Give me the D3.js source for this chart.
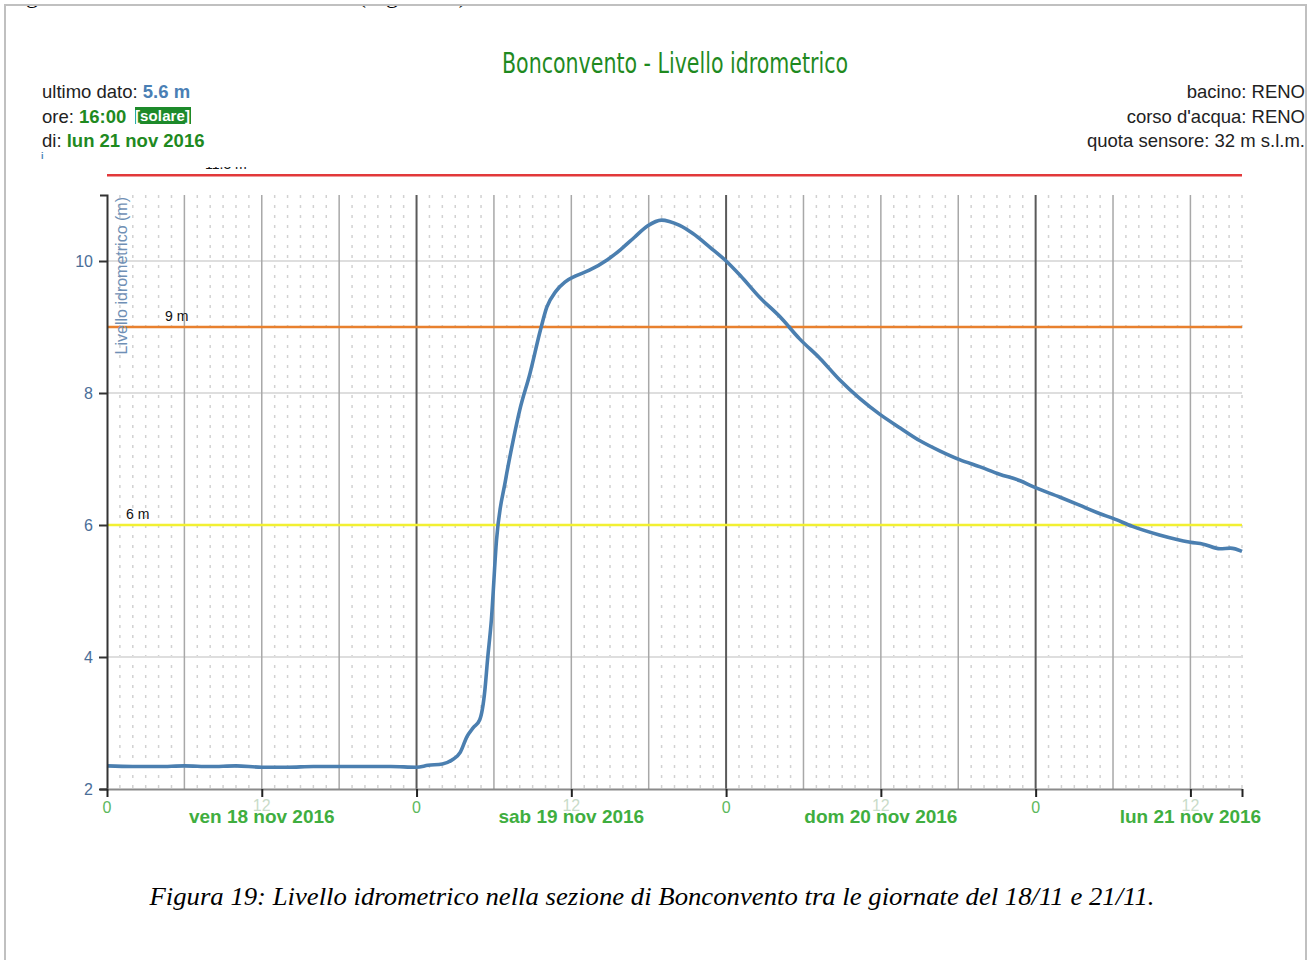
<!DOCTYPE html>
<html lang="it">
<head>
<meta charset="UTF-8">
<title>Bonconvento - Livello idrometrico</title>
<script src="https://d3js.org/d3.v7.min.js"></script>
<style>
  body { margin: 0; background: #fff; }
  svg { display: block; }
  .sans { font-family: 'Liberation Sans', Arial, sans-serif; }
</style>
</head>
<body>
<svg id="chart" width="1311" height="960"></svg>
<script>
// ore dall'inizio di ven 18 nov 2016 (00:00)
const ore = [0, 2, 4, 6, 8, 10, 12, 14, 16, 18, 20, 22, 24, 24.9, 26, 26.75, 27.4, 27.9, 28.4, 28.9,
  29.3, 29.5, 29.8, 30.2, 30.9, 31.5, 32, 32.8, 33.6, 34.1, 34.8, 35.5, 36.3, 37.4, 38.8, 39.8,
  40.9, 41.9, 43, 43.6, 44.4, 45.4, 46.8, 48, 49.1, 50.6, 52.2, 53.7, 55.3, 56.8, 58.4, 59.9,
  61.5, 63, 64.6, 66.1, 67.7, 69.2, 70.8, 71.8, 73.9, 75.4, 77, 78, 79.5, 81.6, 84, 85, 86.3, 87.1, 88];
const livello = [2.35, 2.34, 2.34, 2.35, 2.34, 2.35, 2.33, 2.33, 2.34, 2.34, 2.34, 2.34, 2.33, 2.36, 2.38, 2.44, 2.56, 2.79, 2.93, 3.05,
  3.5, 3.95, 4.56, 5.77, 6.68, 7.29, 7.74, 8.3, 8.95, 9.3, 9.54, 9.68, 9.77, 9.86, 10.02, 10.17,
  10.36, 10.53, 10.62, 10.6, 10.54, 10.42, 10.2, 10.0, 9.78, 9.45, 9.15, 8.82, 8.52, 8.2, 7.91, 7.68,
  7.47, 7.28, 7.12, 6.99, 6.88, 6.77, 6.67, 6.58, 6.42, 6.3, 6.17, 6.1, 5.98, 5.85, 5.74, 5.71, 5.64, 5.65, 5.6];

// soglie (m)
const soglie = [11.3, 9, 6];
const soglieLabel = ["11.3 m", "9 m", "6 m"];
const soglieColori = ["#e2383a", "#e8802e", "#f2f032"];

const giorni = ["ven 18 nov 2016", "sab 19 nov 2016", "dom 20 nov 2016", "lun 21 nov 2016"];
const yTicks = [2, 4, 6, 8, 10];

const infoSinistra = [["ultimo dato: ", "5.6 m"], ["ore: ", "16:00"], ["di: ", "lun 21 nov 2016"]];
const infoDestra = ["bacino: RENO", "corso d'acqua: RENO", "quota sensore: 32 m s.l.m."];

const t0 = Date.UTC(2016, 10, 18);
const ora = h => new Date(t0 + h * 3600e3);
const dati = ore.map((h, i) => ({ t: ora(h), v: livello[i] }));

const svg = d3.select("#chart");

// cornice della pagina (riga di testo tagliata in alto)
svg.append("text").attr("x", 26).attr("y", 3)
  .attr("font-family", "'Liberation Serif', serif").attr("font-size", 24).attr("fill", "#000")
  .text("gi");
svg.append("text").attr("x", 358).attr("y", 3)
  .attr("font-family", "'Liberation Serif', serif").attr("font-size", 24).attr("fill", "#000")
  .text("(Figura 19)");
svg.append("rect").attr("x", 0).attr("y", 0).attr("width", 1311).attr("height", 5).attr("fill", "#fff");
svg.append("path").attr("d", "M5,962 V5 H1306 V962")
  .attr("fill", "none").attr("stroke", "#c0c0c0").attr("stroke-width", 2);

const x = d3.scaleUtc().domain([ora(0), ora(88)]).range([107, 1242]);
const y = d3.scaleLinear().domain([2, 11]).range([789, 195]);

// griglia oraria punteggiata
svg.append("g").selectAll("line")
  .data(d3.utcHour.range(ora(1), ora(88.5)).filter(d => d.getUTCHours() % 6 !== 0))
  .join("line")
  .attr("x1", d => x(d)).attr("x2", d => x(d))
  .attr("y1", y(11)).attr("y2", y(2))
  .attr("stroke", "#d2d2d2").attr("stroke-width", 1.5).attr("stroke-dasharray", "3,7");

// griglia orizzontale
svg.append("g").selectAll("line")
  .data(yTicks.slice(1))
  .join("line")
  .attr("x1", x(ora(0))).attr("x2", x(ora(88)))
  .attr("y1", d => y(d)).attr("y2", d => y(d))
  .attr("stroke", "#dedede").attr("stroke-width", 2);

// griglia verticale ogni 6 ore
svg.append("g").selectAll("line")
  .data(d3.utcHour.every(6).range(ora(6), ora(88)))
  .join("line")
  .attr("x1", d => x(d)).attr("x2", d => x(d))
  .attr("y1", y(11)).attr("y2", y(2))
  .attr("stroke", d => d.getUTCHours() === 0 ? "#5a5a5a" : "#a8a8a8")
  .attr("stroke-width", d => d.getUTCHours() === 0 ? 2 : 1.5);

// soglie
svg.append("defs").append("clipPath").attr("id", "taglio")
  .append("rect").attr("x", 0).attr("y", 167).attr("width", 1311).attr("height", 800);

soglie.forEach((s, i) => {
  svg.append("line")
    .attr("x1", x(ora(0))).attr("x2", x(ora(88)))
    .attr("y1", y(s)).attr("y2", y(s))
    .attr("stroke", soglieColori[i]).attr("stroke-width", 2.5);
});
const lblX = [205, 165, 126];
svg.append("g").attr("clip-path", "url(#taglio)").selectAll("text")
  .data(soglie)
  .join("text")
  .attr("class", "sans")
  .attr("x", (d, i) => lblX[i]).attr("y", d => y(d) - 6)
  .attr("font-size", 14).attr("fill", "#111")
  .text((d, i) => soglieLabel[i]);

// serie
svg.append("path")
  .datum(dati)
  .attr("d", d3.line().x(d => x(d.t)).y(d => y(d.v)).curve(d3.curveMonotoneX))
  .attr("fill", "none").attr("stroke", "#4b7fb0").attr("stroke-width", 3.6)
  .attr("stroke-linejoin", "round");

// asse y
const ay = svg.append("g").attr("transform", `translate(${x(ora(0))},0)`)
  .call(d3.axisLeft(y).tickValues(yTicks).tickSize(8).tickPadding(6).tickSizeOuter(7));
ay.select(".domain").attr("stroke", "#333").attr("stroke-width", 2);
ay.selectAll(".tick line").attr("stroke", "#333").attr("stroke-width", 2);
ay.selectAll(".tick text").attr("font-family", "'Liberation Sans', Arial, sans-serif")
  .attr("font-size", 16).attr("fill", "#4a6e98");

svg.append("text").attr("class", "sans")
  .attr("transform", `translate(127,197) rotate(-90)`)
  .attr("text-anchor", "end").attr("font-size", 16).attr("fill", "#6f8fb5")
  .text("Livello idrometrico (m)");

// asse x
const ax = svg.append("g").attr("transform", `translate(0,${y(2)})`)
  .call(d3.axisBottom(x).tickValues(d3.utcHour.every(12).range(ora(0), ora(88)).concat([ora(88)]))
    .tickSize(8).tickSizeOuter(0).tickFormat(d => ""));
ax.select(".domain").attr("stroke", "#8a8a8a").attr("stroke-width", 2);
ax.selectAll(".tick line").attr("stroke", "#222").attr("stroke-width", 2);

svg.append("g").selectAll("text")
  .data(d3.utcHour.every(12).range(ora(0), ora(88)))
  .join("text")
  .attr("class", "sans")
  .attr("x", d => x(d)).attr("y", d => d.getUTCHours() === 0 ? 813 : 811)
  .attr("text-anchor", "middle").attr("font-size", 16)
  .attr("fill", d => d.getUTCHours() === 0 ? "#5cb85c" : "#c9dcc9")
  .text(d => d.getUTCHours());

svg.append("g").selectAll("text")
  .data(giorni)
  .join("text")
  .attr("class", "sans")
  .attr("x", (d, i) => x(ora(i * 24 + 12))).attr("y", 823)
  .attr("text-anchor", "middle").attr("font-size", 19).attr("font-weight", "bold")
  .attr("fill", "#3fae3f")
  .text(d => d);

// titolo
svg.append("text")
  .attr("x", 675).attr("y", 73).attr("text-anchor", "middle")
  .attr("font-family", "'DejaVu Sans Condensed', 'DejaVu Sans', sans-serif")
  .attr("font-stretch", "condensed")
  .attr("font-size", 29).attr("fill", "#1f8a1f")
  .attr("textLength", 346).attr("lengthAdjust", "spacingAndGlyphs")
  .text("Bonconvento - Livello idrometrico");

// info a sinistra
const coloriValori = ["#4a7fb5", "#1f8a1f", "#1f8a1f"];
infoSinistra.forEach((r, i) => {
  const t = svg.append("text").attr("class", "sans")
    .attr("x", 42).attr("y", 98 + i * 24.5).attr("font-size", 18.5);
  t.append("tspan").attr("fill", "#222").text(r[0]);
  t.append("tspan").attr("fill", coloriValori[i]).attr("font-weight", "bold").text(r[1]);
});
svg.append("rect").attr("x", 135).attr("y", 107).attr("width", 56).attr("height", 17).attr("fill", "#1d8a2a");
svg.append("text").attr("class", "sans").attr("x", 135).attr("y", 121)
  .attr("font-size", 15).attr("font-weight", "bold").attr("fill", "#fff")
  .attr("textLength", 55).text("[solare]");
svg.append("text").attr("class", "sans").attr("x", 41).attr("y", 159)
  .attr("font-size", 9).attr("font-weight", "bold").attr("fill", "#4a7fb5").text("i");

// info a destra
svg.append("g").selectAll("text")
  .data(infoDestra)
  .join("text")
  .attr("class", "sans")
  .attr("x", 1305).attr("y", (d, i) => 98 + i * 24.5)
  .attr("text-anchor", "end").attr("font-size", 18.5).attr("fill", "#222")
  .text(d => d);

// didascalia
svg.append("text")
  .attr("x", 652).attr("y", 905).attr("text-anchor", "middle")
  .attr("font-family", "'Liberation Serif', 'Times New Roman', serif")
  .attr("font-style", "italic").attr("font-size", 25.5).attr("fill", "#000")
  .attr("textLength", 1005).attr("lengthAdjust", "spacingAndGlyphs")
  .text("Figura 19: Livello idrometrico nella sezione di Bonconvento tra le giornate del 18/11 e 21/11.");
</script>
</body>
</html>
